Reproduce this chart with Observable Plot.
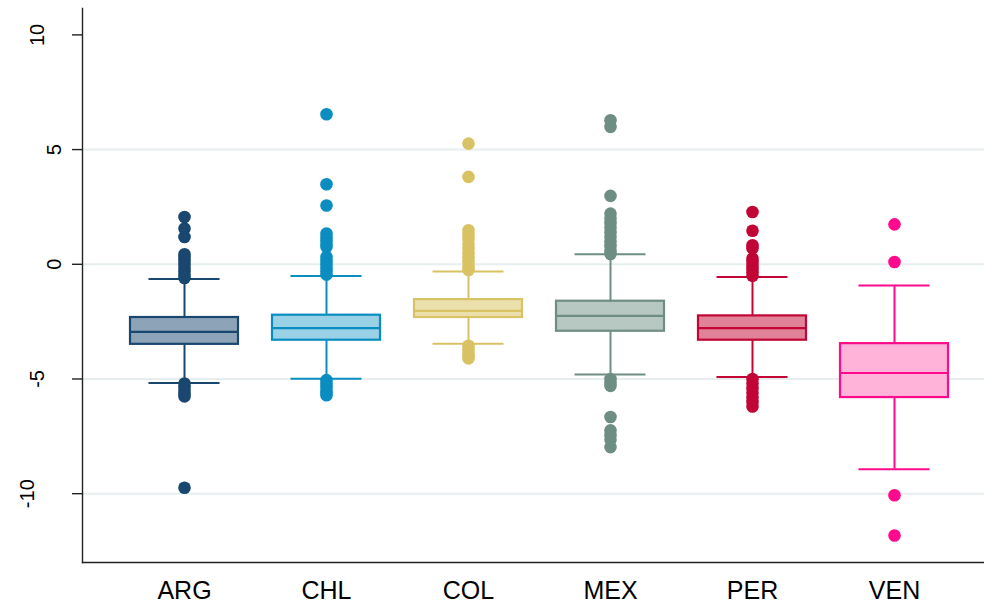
<!DOCTYPE html>
<html>
<head>
<meta charset="utf-8">
<script src="https://cdn.jsdelivr.net/npm/d3@7"></script>
<script src="https://cdn.jsdelivr.net/npm/@observablehq/plot@0.6"></script>
<style>
  html, body { margin: 0; padding: 0; background: #ffffff; }
  #chart svg { display: block; }
</style>
</head>
<body>
<div id="chart"></div>
<script>
// ---- data ----
const countries = ["ARG", "CHL", "COL", "MEX", "PER", "VEN"];
const lowerWhisker = [-5.18, -4.99, -3.46, -4.81, -4.91, -8.93];
const lowerQuartile = [-3.49, -3.31, -2.32, -2.92, -3.31, -5.81];
const medians = [-2.95, -2.78, -2.03, -2.25, -2.78, -4.74];
const upperQuartile = [-2.32, -2.22, -1.54, -1.61, -2.25, -3.46];
const upperWhisker = [-0.64, -0.51, -0.31, 0.44, -0.55, -0.92];

const outliersARG = [2.06, 1.56, 1.19, 0.44, 0.3, 0.15, 0.0, -0.15, -0.3, -0.45, -0.6,
                     -5.2, -5.35, -5.5, -5.65, -5.76, -9.74];
const outliersCHL = [6.54, 3.49, 2.56, 1.34, 1.2, 1.05, 0.9, 0.76, 0.32, 0.15, 0.0, -0.15, -0.3, -0.45,
                     -5.05, -5.2, -5.35, -5.5, -5.6, -5.71];
const outliersCOL = [5.26, 3.81, 1.48, 1.3, 1.1, 0.9, 0.7, 0.5, 0.3, 0.1, -0.1, -0.25,
                     -3.55, -3.7, -3.85, -4.0, -4.1];
const outliersMEX = [6.28, 5.99, 2.98, 2.21, 2.0, 1.8, 1.6, 1.4, 1.2, 1.0, 0.8, 0.6, 0.45,
                     -5.0, -5.15, -5.3, -6.66, -7.24, -7.45, -7.65, -7.97];
const outliersPER = [2.28, 1.46, 0.83, 0.7, 0.25, 0.1, -0.05, -0.2, -0.35, -0.5,
                     -5.0, -5.2, -5.4, -5.6, -5.8, -6.0, -6.2];
const outliersVEN = [1.74, 0.1, -10.07, -11.82];

const lineColors = ["#1a476f", "#0a8dc0", "#d9c264", "#6e8e84", "#c10534", "#ff0a8c"];
const fillColors = ["#8ca3b8", "#99d1e6", "#ebe0ac", "#b7c7c2", "#e08399", "#ffb3d9"];

const yTicks = [-10, -5, 0, 5, 10];
const gridValues = [-10, -5, 0, 5];
const yDomain = [-13, 11.15];

// ---- build tables ----
const stats = countries.map((c, i) => ({
  country: c,
  lo: lowerWhisker[i], q1: lowerQuartile[i], med: medians[i],
  q3: upperQuartile[i], hi: upperWhisker[i],
  stroke: lineColors[i], fill: fillColors[i]
}));
const outlierLists = [outliersARG, outliersCHL, outliersCOL, outliersMEX, outliersPER, outliersVEN];
const outliers = countries.flatMap((c, i) =>
  outlierLists[i].map(v => ({country: c, value: v, color: lineColors[i]})));

const font = "'Liberation Sans', Arial, Helvetica, sans-serif";
const labelOffset = {1: -27.5, 2: -44.5, 3: -55};

const chart = Plot.plot({
  width: 984,
  height: 608,
  marginLeft: 82,
  marginRight: 0,
  marginTop: 8,
  marginBottom: 46,
  style: {background: "#ffffff", color: "#000000", fontFamily: font},
  color: {type: "identity"},
  x: {type: "band", domain: countries, range: [82.3, 995.3], paddingInner: 0.24, paddingOuter: 0.33, label: null},
  y: {domain: yDomain, label: null},
  marks: [
    Plot.ruleY(gridValues, {stroke: "#e7eef0", strokeWidth: 2}),
    Plot.frame({anchor: "left", stroke: "#222222", strokeWidth: 1.4}),
    Plot.frame({anchor: "bottom", stroke: "#222222", strokeWidth: 1.4}),
    Plot.axisY({ticks: yTicks, tickSize: 10, tickFormat: () => "", label: null, stroke: "#222222", strokeWidth: 1.4}),
    ...[1, 2, 3].map(n => Plot.text(yTicks.filter(t => String(t).length === n), {
      y: d => d, text: d => String(d), frameAnchor: "left", dx: labelOffset[n],
      rotate: -90, textAnchor: "middle", lineAnchor: "middle",
      fontSize: 20, fill: "#000000", fontFamily: font
    })),
    Plot.axisX({tickSize: 0, tickPadding: 19, fontSize: 25, label: null, fill: "#000000", fontFamily: font}),
    Plot.ruleX(stats, {x: "country", y1: "q3", y2: "hi", stroke: "stroke", strokeWidth: 2}),
    Plot.ruleX(stats, {x: "country", y1: "lo", y2: "q1", stroke: "stroke", strokeWidth: 2}),
    Plot.barY(stats, {x: "country", y1: "q1", y2: "q3", fill: "fill", stroke: "stroke", strokeWidth: 2.2}),
    Plot.tickY(stats, {x: "country", y: "med", stroke: "stroke", strokeWidth: 2.2}),
    Plot.tickY(stats, {x: "country", y: "hi", stroke: "stroke", strokeWidth: 2, insetLeft: 18.5, insetRight: 18.5}),
    Plot.tickY(stats, {x: "country", y: "lo", stroke: "stroke", strokeWidth: 2, insetLeft: 18.5, insetRight: 18.5}),
    Plot.dot(outliers, {x: "country", y: "value", r: 6.3, fill: "color", stroke: null})
  ]
});
document.getElementById("chart").appendChild(chart);
</script>
</body>
</html>
